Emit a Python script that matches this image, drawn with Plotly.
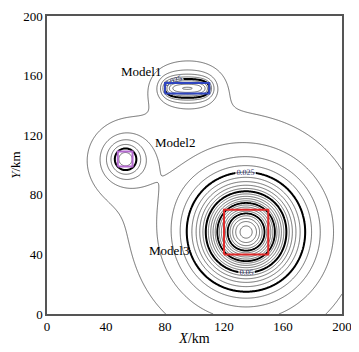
import numpy as np
import plotly.graph_objects as go

# ---- model data (km) ----
model_names = ["Model1", "Model2", "Model3"]
x_min = [80.0, 48.0, 120.0]
x_max = [110.0, 58.0, 150.0]
y_min = [148.0, 99.0, 40.0]
y_max = [155.0, 109.0, 70.0]
z_top = [4.0, 9.0, 16.0]
z_bot = [9.0, 19.0, 36.0]
density = [0.0046, 0.0062, 0.0056]
rect_colors = ["#2f45c0", "#b46ad0", "#e02a2a"]

label_x = [64.0, 87.0, 82.5]
label_y = [162.6, 114.8, 42.5]

x_ticks = [0, 40, 80, 120, 160, 200]
y_ticks = [0, 40, 80, 120, 160, 200]

# contour levels
level_step = 0.005
level_min = 0.005
level_max = 0.3
bold_step = 0.025
bold_max = 0.1


def prism_gz(X, Y, x1, x2, y1, y2, z1, z2, rho):
    g = np.zeros_like(X)
    for i, xe in enumerate((x1, x2)):
        dx = xe - X
        for j, ye in enumerate((y1, y2)):
            dy = ye - Y
            for k, ze in enumerate((z1, z2)):
                r = np.sqrt(dx * dx + dy * dy + ze * ze)
                s = (-1) ** (i + j + k)
                g += s * (dx * np.log(dy + r) + dy * np.log(dx + r)
                          - ze * np.arctan2(dx * dy, ze * r))
    return rho * g


xs = np.linspace(0, 200, 401)
ys = np.linspace(0, 200, 401)
X, Y = np.meshgrid(xs, ys)
Z = np.zeros_like(X)
for m in range(len(model_names)):
    Z += np.abs(prism_gz(X, Y, x_min[m], x_max[m], y_min[m], y_max[m],
                         z_top[m], z_bot[m], density[m]))

serif = "Liberation Serif"
fig = go.Figure()

fig.add_trace(go.Contour(
    x=xs, y=ys, z=Z, showscale=False, hoverinfo="skip",
    contours=dict(start=level_min, end=level_max, size=level_step, coloring="none"),
    line=dict(color="#4a4a4a", width=0.8),
))
fig.add_trace(go.Contour(
    x=xs, y=ys, z=Z, showscale=False, hoverinfo="skip",
    contours=dict(start=bold_step, end=2 * bold_step, size=bold_step, coloring="none",
                  showlabels=True, labelformat=".3~f",
                  labelfont=dict(size=8, color="#1d2a66", family=serif)),
    line=dict(color="black", width=2),
))
fig.add_trace(go.Contour(
    x=xs, y=ys, z=Z, showscale=False, hoverinfo="skip",
    contours=dict(start=3 * bold_step, end=bold_max, size=bold_step, coloring="none"),
    line=dict(color="black", width=1.8),
))

for m in range(len(model_names)):
    fig.add_trace(go.Scatter(
        x=[x_min[m], x_max[m], x_max[m], x_min[m], x_min[m]],
        y=[y_min[m], y_min[m], y_max[m], y_max[m], y_min[m]],
        mode="lines", line=dict(color=rect_colors[m], width=2),
        hoverinfo="skip", showlegend=False,
    ))
    fig.add_annotation(x=label_x[m], y=label_y[m], text=model_names[m],
                       showarrow=False, font=dict(family=serif, size=13, color="black"))

axis_common = dict(range=[0, 200], showgrid=False, zeroline=False, showline=True,
                   linecolor="#555", linewidth=1.5, mirror=True, ticks="",
                   automargin=False,
                   tickfont=dict(family=serif, size=13, color="black"))
fig.update_xaxes(tickvals=x_ticks, ticktext=[str(v) for v in x_ticks],
                 title=dict(text="<i>X</i>/km", font=dict(family=serif, size=14, color="black"),
                            standoff=0),
                 **axis_common)
fig.update_yaxes(tickvals=y_ticks, ticktext=[str(v) for v in y_ticks],
                 title=dict(text="<i>Y</i>/km", font=dict(family=serif, size=13, color="black"),
                            standoff=3),
                 **axis_common)
# the page body adds an 8 px margin, so the figure is 8 px smaller and margins shifted
fig.update_layout(width=351, height=344, margin=dict(l=39, r=17, t=8, b=38),
                  plot_bgcolor="white", paper_bgcolor="white", showlegend=False)

fig.write_html("out.html")
